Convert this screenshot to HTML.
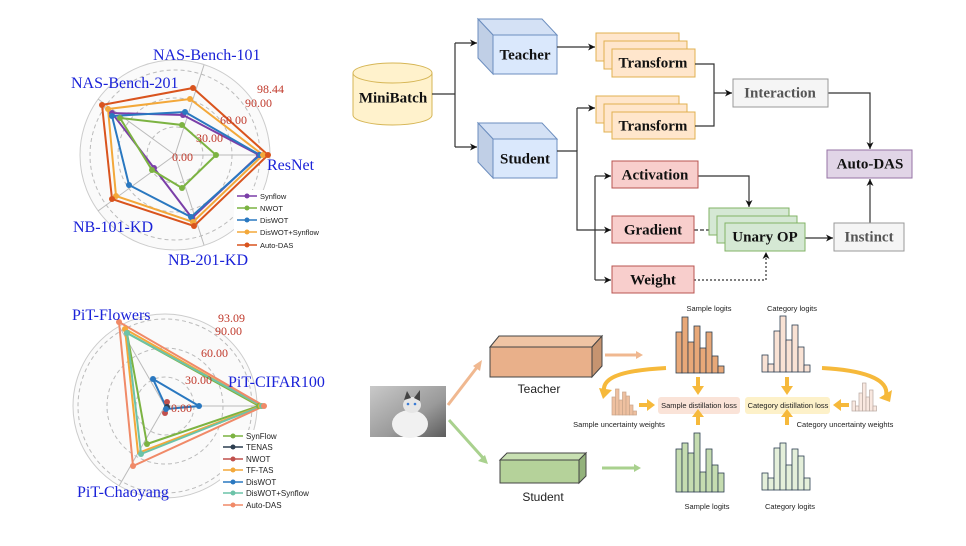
<!DOCTYPE html>
<html><head><meta charset="utf-8"><style>
html,body{margin:0;padding:0;background:#fff;}
svg{display:block;}
.ser{font-family:"Liberation Serif",serif;}
.san{font-family:"Liberation Sans",sans-serif;}
.nb{font-family:"Liberation Serif",serif;font-weight:bold;font-size:15px;text-anchor:middle;dominant-baseline:middle;fill:#111;}
.ax{fill:#1a22d8;font-family:"Liberation Serif",serif;font-size:16px;}
.rv{fill:#c0392b;font-family:"Liberation Serif",serif;font-size:12px;}
.lg{font-family:"Liberation Sans",sans-serif;font-size:7.5px;fill:#222;}
.sm{font-family:"Liberation Sans",sans-serif;font-size:7.5px;fill:#222;text-anchor:middle;}
</style></head><body>
<svg width="966" height="546" viewBox="0 0 966 546" xmlns="http://www.w3.org/2000/svg">
<defs>
<marker id="ar" markerWidth="8" markerHeight="8" refX="7" refY="4" orient="auto" markerUnits="userSpaceOnUse"><path d="M0,0.5 L7,4 L0,7.5 L2,4z" fill="#111"/></marker>
</defs>

<!-- ===== Top-left radar ===== -->
<g>
<circle cx="175" cy="155" r="95" fill="#fafafa" stroke="#ccc"/>
<circle cx="175" cy="155" r="85" fill="none" stroke="#bbb" stroke-dasharray="4,3"/>
<circle cx="175" cy="155" r="57" fill="none" stroke="#bbb" stroke-dasharray="4,3"/>
<circle cx="175" cy="155" r="28" fill="none" stroke="#bbb" stroke-dasharray="4,3"/>
<g stroke="#bbb" stroke-width="1">
<line x1="175" y1="155" x2="270" y2="155"/>
<line x1="175" y1="155" x2="204" y2="65"/>
<line x1="175" y1="155" x2="98" y2="99"/>
<line x1="175" y1="155" x2="98" y2="211"/>
<line x1="175" y1="155" x2="204" y2="245"/>
</g>
<g stroke-width="2" fill="none">
<polygon points="259,155 183,115 112,113 154,168 192,218" stroke="#7b3fa8"/>
<polygon points="216,155 182,125 120,118 152,170 182,188" stroke="#7cb342"/>
<polygon points="260,155 185,112 112,116 129,185 191,217" stroke="#2a78c0"/>
<polygon points="263,155 190,99 108,109 116,196 193,222" stroke="#f3a83a"/>
<polygon points="268,155 193,88 102,105 112,199 194,226" stroke="#d9541e"/>
</g>
<g>
<g fill="#7b3fa8"><circle cx="259" cy="155" r="3"/><circle cx="183" cy="115" r="3"/><circle cx="112" cy="113" r="3"/><circle cx="154" cy="168" r="3"/><circle cx="192" cy="218" r="3"/></g>
<g fill="#7cb342"><circle cx="216" cy="155" r="3"/><circle cx="182" cy="125" r="3"/><circle cx="120" cy="118" r="3"/><circle cx="152" cy="170" r="3"/><circle cx="182" cy="188" r="3"/></g>
<g fill="#2a78c0"><circle cx="260" cy="155" r="3"/><circle cx="185" cy="112" r="3"/><circle cx="112" cy="116" r="3"/><circle cx="129" cy="185" r="3"/><circle cx="191" cy="217" r="3"/></g>
<g fill="#f3a83a"><circle cx="263" cy="155" r="3"/><circle cx="190" cy="99" r="3"/><circle cx="108" cy="109" r="3"/><circle cx="116" cy="196" r="3"/><circle cx="193" cy="222" r="3"/></g>
<g fill="#d9541e"><circle cx="268" cy="155" r="3"/><circle cx="193" cy="88" r="3"/><circle cx="102" cy="105" r="3"/><circle cx="112" cy="199" r="3"/><circle cx="194" cy="226" r="3"/></g>
</g>
<text class="ax" x="153" y="60">NAS-Bench-101</text>
<text class="ax" x="71" y="88">NAS-Bench-201</text>
<text class="ax" x="267" y="170">ResNet</text>
<text class="ax" x="73" y="232">NB-101-KD</text>
<text class="ax" x="168" y="265">NB-201-KD</text>
<text class="rv" x="257" y="93">98.44</text>
<text class="rv" x="245" y="107">90.00</text>
<text class="rv" x="220" y="124">60.00</text>
<text class="rv" x="196" y="142">30.00</text>
<text class="rv" x="172" y="161">0.00</text>
<rect x="234" y="190" width="80" height="62" fill="#fff"/>
<g stroke-width="1.5">
<line x1="237" y1="196" x2="257" y2="196" stroke="#7b3fa8"/><circle cx="247" cy="196" r="2.5" fill="#7b3fa8"/>
<line x1="237" y1="208" x2="257" y2="208" stroke="#7cb342"/><circle cx="247" cy="208" r="2.5" fill="#7cb342"/>
<line x1="237" y1="220" x2="257" y2="220" stroke="#2a78c0"/><circle cx="247" cy="220" r="2.5" fill="#2a78c0"/>
<line x1="237" y1="232" x2="257" y2="232" stroke="#f3a83a"/><circle cx="247" cy="232" r="2.5" fill="#f3a83a"/>
<line x1="237" y1="245" x2="257" y2="245" stroke="#d9541e"/><circle cx="247" cy="245" r="2.5" fill="#d9541e"/>
</g>
<text class="lg" x="260" y="199">Synflow</text>
<text class="lg" x="260" y="211">NWOT</text>
<text class="lg" x="260" y="223">DisWOT</text>
<text class="lg" x="260" y="235">DisWOT+Synflow</text>
<text class="lg" x="260" y="248">Auto-DAS</text>
</g>

<!-- ===== Bottom-left radar ===== -->
<g>
<circle cx="165" cy="406" r="92" fill="#fafafa" stroke="#ccc"/>
<circle cx="165" cy="406" r="87" fill="none" stroke="#bbb" stroke-dasharray="4,3"/>
<circle cx="165" cy="406" r="58" fill="none" stroke="#bbb" stroke-dasharray="4,3"/>
<circle cx="165" cy="406" r="29" fill="none" stroke="#bbb" stroke-dasharray="4,3"/>
<g stroke="#bbb">
<line x1="165" y1="406" x2="257" y2="406"/>
<line x1="165" y1="406" x2="119" y2="326"/>
<line x1="165" y1="406" x2="119" y2="486"/>
</g>
<g stroke-width="2" fill="none">
<polygon points="259,406 127,333 147,444" stroke="#7cb342"/>
<polygon points="167,407 166,406 166,409" stroke="#2c3e50"/>
<polygon points="167,402 165,413 168,405" stroke="#c0504d"/>
<polygon points="261,406 125,329 138,453" stroke="#f3a83a"/>
<polygon points="199,406 153,379 167,409" stroke="#2a78c0"/>
<polygon points="262,406 127,333 141,454" stroke="#6cc3a8"/>
<polygon points="264,406 119,322 133,466" stroke="#f08a68"/>
</g>
<g>
<g fill="#7cb342"><circle cx="259" cy="406" r="3"/><circle cx="127" cy="333" r="3"/><circle cx="147" cy="444" r="3"/></g>
<g fill="#c0504d"><circle cx="167" cy="402" r="3"/><circle cx="165" cy="413" r="3"/></g>
<g fill="#2c3e50"><circle cx="167" cy="407" r="3"/></g>
<g fill="#f3a83a"><circle cx="261" cy="406" r="3"/><circle cx="125" cy="329" r="3"/></g>
<g fill="#2a78c0"><circle cx="199" cy="406" r="3"/><circle cx="153" cy="379" r="3"/><circle cx="166" cy="409" r="3"/></g>
<g fill="#6cc3a8"><circle cx="262" cy="406" r="3"/><circle cx="127" cy="333" r="3"/><circle cx="141" cy="454" r="3"/></g>
<g fill="#f08a68"><circle cx="264" cy="406" r="3"/><circle cx="119" cy="322" r="3"/><circle cx="133" cy="466" r="3"/></g>
</g>
<text class="ax" x="72" y="320">PiT-Flowers</text>
<text class="ax" x="228" y="387">PiT-CIFAR100</text>
<text class="ax" x="77" y="497">PiT-Chaoyang</text>
<text class="rv" x="218" y="322">93.09</text>
<text class="rv" x="215" y="335">90.00</text>
<text class="rv" x="201" y="357">60.00</text>
<text class="rv" x="185" y="384">30.00</text>
<text class="rv" x="171" y="412">0.00</text>
<rect x="220" y="430" width="100" height="82" fill="#fff"/>
<g stroke-width="1.5">
<line x1="223" y1="436" x2="243" y2="436" stroke="#7cb342"/><circle cx="233" cy="436" r="2.5" fill="#7cb342"/>
<line x1="223" y1="447" x2="243" y2="447" stroke="#2c3e50"/><circle cx="233" cy="447" r="2.5" fill="#2c3e50"/>
<line x1="223" y1="459" x2="243" y2="459" stroke="#c0504d"/><circle cx="233" cy="459" r="2.5" fill="#c0504d"/>
<line x1="223" y1="470" x2="243" y2="470" stroke="#f3a83a"/><circle cx="233" cy="470" r="2.5" fill="#f3a83a"/>
<line x1="223" y1="482" x2="243" y2="482" stroke="#2a78c0"/><circle cx="233" cy="482" r="2.5" fill="#2a78c0"/>
<line x1="223" y1="493" x2="243" y2="493" stroke="#6cc3a8"/><circle cx="233" cy="493" r="2.5" fill="#6cc3a8"/>
<line x1="223" y1="505" x2="243" y2="505" stroke="#f08a68"/><circle cx="233" cy="505" r="2.5" fill="#f08a68"/>
</g>
<g class="lg" style="font-size:8px">
<text x="246" y="439">SynFlow</text><text x="246" y="450">TENAS</text><text x="246" y="462">NWOT</text>
<text x="246" y="473">TF-TAS</text><text x="246" y="485">DisWOT</text><text x="246" y="496">DisWOT+Synflow</text><text x="246" y="508">Auto-DAS</text>
</g>
</g>

<!-- ===== Top-right flow ===== -->
<g>
<!-- MiniBatch cylinder -->
<path d="M353,73 L353,115 A39.5,10 0 0 0 432,115 L432,73" fill="#fff2cc" stroke="#d6b656"/>
<ellipse cx="392.5" cy="73" rx="39.5" ry="10" fill="#fff2cc" stroke="#d6b656"/>
<text class="nb" x="393" y="99">MiniBatch</text>
<g stroke="#333" stroke-width="1.2" fill="none">
<polyline points="432,94 455,94"/>
<polyline points="455,43 455,147"/>
<line x1="455" y1="43" x2="477" y2="43" marker-end="url(#ar)"/>
<line x1="455" y1="147" x2="477" y2="147" marker-end="url(#ar)"/>
</g>
<!-- Teacher cube -->
<g stroke="#6c8ebf">
<polygon points="478,19 542,19 557,35 493,35" fill="#d4e1f5"/>
<polygon points="478,19 493,35 493,74 478,58" fill="#c0cfe6"/>
<rect x="493" y="35" width="64" height="39" fill="#dae8fc"/>
<polygon points="478,123 542,123 557,139 493,139" fill="#d4e1f5"/>
<polygon points="478,123 493,139 493,178 478,162" fill="#c0cfe6"/>
<rect x="493" y="139" width="64" height="39" fill="#dae8fc"/>
</g>
<text class="nb" x="525" y="56">Teacher</text>
<text class="nb" x="525" y="160">Student</text>
<!-- Transform stacks -->
<g fill="#ffe6cc" stroke="#e0b050">
<rect x="596" y="33" width="83" height="28"/><rect x="604" y="41" width="83" height="28"/><rect x="612" y="49" width="83" height="28"/>
<rect x="596" y="96" width="83" height="27"/><rect x="604" y="104" width="83" height="28"/><rect x="612" y="112" width="83" height="27"/>
</g>
<text class="nb" x="653" y="64">Transform</text>
<text class="nb" x="653" y="127">Transform</text>
<g stroke="#333" stroke-width="1.2" fill="none">
<line x1="557" y1="47" x2="595" y2="47" marker-end="url(#ar)"/>
<polyline points="557,151 577,151 577,230 611,230" marker-end="url(#ar)"/>
<polyline points="577,108 595,108" marker-end="url(#ar)"/>
<line x1="577" y1="108" x2="577" y2="151"/>
<line x1="595" y1="176" x2="595" y2="280"/>
<line x1="595" y1="176" x2="611" y2="176" marker-end="url(#ar)"/>
<line x1="595" y1="280" x2="611" y2="280" marker-end="url(#ar)"/>
<polyline points="695,64 714,64 714,126 695,126"/>
<line x1="714" y1="93" x2="732" y2="93" marker-end="url(#ar)"/>
<polyline points="828,93 870,93 870,149" marker-end="url(#ar)"/>
<polyline points="698,176 749,176 749,207" marker-end="url(#ar)"/>
<line x1="805" y1="238" x2="833" y2="238" marker-end="url(#ar)"/>
<line x1="870" y1="223" x2="870" y2="179" marker-end="url(#ar)"/>
<line x1="694" y1="230" x2="716" y2="230" stroke-dasharray="4,2" marker-end="url(#ar)"/>
<polyline points="694,280 766,280 766,252" stroke-dasharray="2,2" marker-end="url(#ar)"/>
</g>
<g fill="#f8cecc" stroke="#b85450">
<rect x="612" y="161" width="86" height="27"/><rect x="612" y="216" width="82" height="27"/><rect x="612" y="266" width="82" height="27"/>
</g>
<text class="nb" x="655" y="176">Activation</text>
<text class="nb" x="653" y="231">Gradient</text>
<text class="nb" x="653" y="281">Weight</text>
<g fill="#d5e8d4" stroke="#82b366">
<rect x="709" y="208" width="80" height="27"/><rect x="717" y="216" width="80" height="27"/><rect x="725" y="223" width="80" height="28"/>
</g>
<text class="nb" x="765" y="238">Unary OP</text>
<rect x="733" y="79" width="95" height="28" fill="#f5f5f5" stroke="#999"/>
<text class="nb" x="780" y="94" style="fill:#555">Interaction</text>
<rect x="834" y="223" width="70" height="28" fill="#f5f5f5" stroke="#999"/>
<text class="nb" x="869" y="238" style="fill:#555">Instinct</text>
<rect x="827" y="150" width="85" height="28" fill="#e1d5e7" stroke="#9673a6"/>
<text class="nb" x="870" y="165">Auto-DAS</text>
</g>

<!-- ===== Bottom-right ===== -->
<g>
<defs>
<linearGradient id="cat" x1="0" y1="0" x2="1" y2="1"><stop offset="0" stop-color="#c9c9c9"/><stop offset="0.6" stop-color="#9a9a9a"/><stop offset="1" stop-color="#5c5c5c"/></linearGradient>
</defs>
<rect x="370" y="386" width="76" height="51" fill="url(#cat)"/>
<ellipse cx="410" cy="424" rx="18" ry="14" fill="#f1f1f1"/>
<ellipse cx="412" cy="405" rx="9" ry="8" fill="#e6e6e6"/>
<polygon points="404,400 407,391 411,398" fill="#444"/><polygon points="414,398 420,390 420,401" fill="#444"/>
<circle cx="408" cy="404" r="1.3" fill="#3a7bd5"/><circle cx="415" cy="404" r="1.3" fill="#3a7bd5"/>

<line x1="448" y1="405" x2="478" y2="366" stroke="#f0b890" stroke-width="3"/>
<polygon points="482,360 480,371 473,366" fill="#f0b890"/>
<line x1="449" y1="420" x2="484" y2="459" stroke="#a9d18e" stroke-width="3"/>
<polygon points="488,464 478,461 485,455" fill="#a9d18e"/>

<g stroke="#444" stroke-width="1">
<polygon points="490,347 499,336 602,336 592,347" fill="#efc4a4"/>
<polygon points="592,347 602,336 602,366 592,377" fill="#c69470"/>
<rect x="490" y="347" width="102" height="30" fill="#e9b08a"/>
<polygon points="500,460 507,453 586,453 579,460" fill="#c8e0b2"/>
<polygon points="579,460 586,453 586,476 579,483" fill="#93b27b"/>
<rect x="500" y="460" width="79" height="23" fill="#b5d29a"/>
</g>
<text class="san" x="539" y="393" font-size="12" text-anchor="middle" fill="#222">Teacher</text>
<text class="san" x="543" y="501" font-size="12" text-anchor="middle" fill="#222">Student</text>
<line x1="605" y1="355" x2="638" y2="355" stroke="#f0b890" stroke-width="3"/><polygon points="643,355 636,351 636,359" fill="#f0b890"/>
<line x1="602" y1="468" x2="636" y2="468" stroke="#a9d18e" stroke-width="3"/><polygon points="641,468 634,464 634,472" fill="#a9d18e"/>

<!-- histograms -->
<g stroke="#2c3e50" stroke-width="0.8">
<g fill="#e8a878">
<rect x="676" y="332" width="6" height="41"/><rect x="682" y="317" width="6" height="56"/><rect x="688" y="342" width="6" height="31"/><rect x="694" y="326" width="6" height="47"/><rect x="700" y="348" width="6" height="25"/><rect x="706" y="332" width="6" height="41"/><rect x="712" y="356" width="6" height="17"/><rect x="718" y="366" width="6" height="7"/>
</g>
<g fill="#f9e2d4">
<rect x="762" y="355" width="6" height="17"/><rect x="768" y="364" width="6" height="8"/><rect x="774" y="331" width="6" height="41"/><rect x="780" y="316" width="6" height="56"/><rect x="786" y="340" width="6" height="32"/><rect x="792" y="325" width="6" height="47"/><rect x="798" y="347" width="6" height="25"/><rect x="804" y="365" width="6" height="7"/>
</g>
<g fill="#c5dcb0">
<rect x="676" y="449" width="6" height="43"/><rect x="682" y="443" width="6" height="49"/><rect x="688" y="453" width="6" height="39"/><rect x="694" y="433" width="6" height="59"/><rect x="700" y="472" width="6" height="20"/><rect x="706" y="449" width="6" height="43"/><rect x="712" y="465" width="6" height="27"/><rect x="718" y="473" width="6" height="19"/>
</g>
<g fill="#e4efda">
<rect x="762" y="473" width="6" height="17"/><rect x="768" y="478" width="6" height="12"/><rect x="774" y="448" width="6" height="42"/><rect x="780" y="443" width="6" height="47"/><rect x="786" y="465" width="6" height="25"/><rect x="792" y="449" width="6" height="41"/><rect x="798" y="456" width="6" height="34"/><rect x="804" y="478" width="6" height="12"/>
</g>
</g>
<g stroke="#c9a58a" stroke-width="0.7" fill="#eec0a0">
<rect x="612" y="397" width="3.5" height="18"/><rect x="615.5" y="389" width="3.5" height="26"/><rect x="619" y="400" width="3.5" height="15"/><rect x="622.5" y="392" width="3.5" height="23"/><rect x="626" y="396" width="3.5" height="19"/><rect x="629.5" y="405" width="3.5" height="10"/><rect x="633" y="411" width="3.5" height="4"/>
</g>
<g stroke="#b8a8a0" stroke-width="0.7" fill="#f9e8e0">
<rect x="852" y="401" width="3.5" height="10"/><rect x="855.5" y="406" width="3.5" height="5"/><rect x="859" y="393" width="3.5" height="18"/><rect x="862.5" y="383" width="3.5" height="28"/><rect x="866" y="397" width="3.5" height="14"/><rect x="869.5" y="390" width="3.5" height="21"/><rect x="873" y="406" width="3.5" height="5"/>
</g>
<text class="sm" x="709" y="311">Sample logits</text>
<text class="sm" x="792" y="311">Category logits</text>
<text class="sm" x="707" y="509">Sample logits</text>
<text class="sm" x="790" y="509">Category logits</text>
<text class="sm" x="619" y="427">Sample uncertainty weights</text>
<text class="sm" x="845" y="427">Category uncertainty weights</text>
<rect x="658" y="397" width="82" height="17" rx="3" fill="#fae3d8"/>
<rect x="745" y="397" width="85" height="17" rx="3" fill="#fdf1c9"/>
<text class="sm" x="699" y="408">Sample distillation loss</text>
<text class="sm" x="788" y="408">Category distillation loss</text>
<!-- yellow arrows -->
<g fill="#f6b93b">
<rect x="696" y="377" width="4" height="10"/><polygon points="692,386 704,386 698,395"/>
<rect x="696" y="416" width="4" height="9"/><polygon points="692,417 704,417 698,409"/>
<rect x="785" y="377" width="4" height="10"/><polygon points="781,386 793,386 787,395"/>
<rect x="785" y="416" width="4" height="9"/><polygon points="781,417 793,417 787,409"/>
<rect x="639" y="403" width="9" height="4"/><polygon points="647,399 647,411 655,405"/>
<rect x="840" y="403" width="9" height="4"/><polygon points="841,399 841,411 833,405"/>
<polygon points="599,388 612,390 603,399"/>
<polygon points="879,398 892,390 890,402"/>
</g>
<g fill="none" stroke="#f6b93b" stroke-width="4">
<path d="M666,368 C630,370 602,375 604,391"/>
<path d="M822,368 C860,370 890,378 886,396"/>
</g>
</g>
</svg>
</body></html>
